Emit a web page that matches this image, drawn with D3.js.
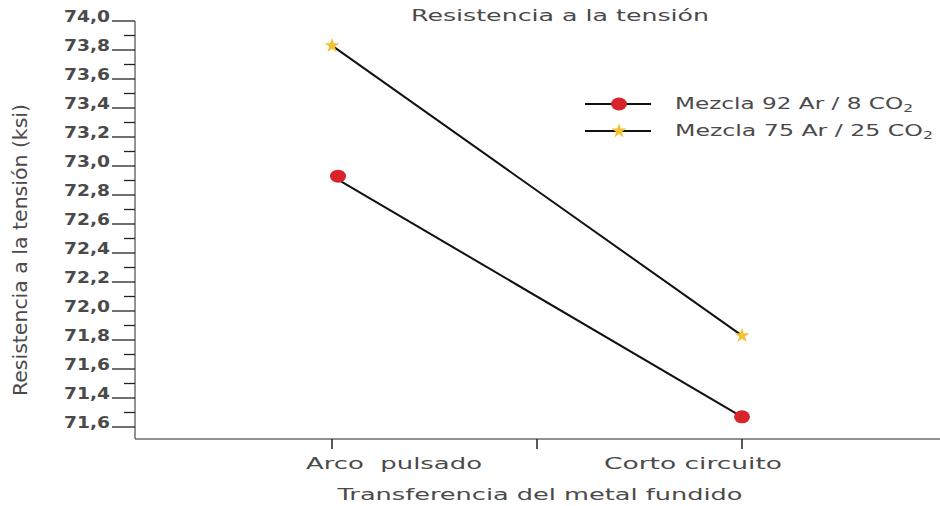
<!DOCTYPE html>
<html><head><meta charset="utf-8">
<script src="https://cdn.jsdelivr.net/npm/d3@7"></script>
<style>
body{margin:0;background:#fff;}
svg{display:block;}
text{font-family:"DejaVu Sans","Open Sans",sans-serif;fill:#4a4a4a;}
</style></head>
<body><svg id="c" width="940" height="506"></svg>
<script>
const categories = ["Arco  pulsado", "Corto circuito"];
const seriesNames = ["Mezcla 92 Ar / 8 CO", "Mezcla 75 Ar / 25 CO"];
const mezcla92 = [72.93, 71.27];
const mezcla75 = [73.83, 71.83];
const yTickValues = [74.0, 73.8, 73.6, 73.4, 73.2, 73.0, 72.8, 72.6, 72.4, 72.2, 72.0, 71.8, 71.6, 71.4, 71.2];
const yTickLabels = ["74,0","73,8","73,6","73,4","73,2","73,0","72,8","72,6","72,4","72,2","72,0","71,8","71,6","71,4","71,6"];
const title = "Resistencia a la tensión";
const xTitle = "Transferencia del metal fundido";
const yTitle = "Resistencia a la tensión (ksi)";

const svg = d3.select("#c");
const axisX0 = 135, axisBottom = 439;
const y = d3.scaleLinear().domain([71.2, 74.0]).range([427, 21]);
const x = d3.scaleBand().domain(categories).range([127, 947]);
const cx = c => x(c) + x.bandwidth() / 2;

// Y axis
const yAxisG = svg.append("g");
yAxisG.append("line").attr("x1", axisX0).attr("x2", axisX0).attr("y1", y(74.0)).attr("y2", axisBottom)
  .attr("stroke", "#6e6e6e").attr("stroke-width", 1.5);
const minor = y.ticks(28).filter(v => !yTickValues.some(m => Math.abs(m - v) < 1e-6));
yAxisG.selectAll("line.minor").data(minor).enter().append("line")
  .attr("x1", axisX0 - 11).attr("x2", axisX0).attr("y1", d => y(d)).attr("y2", d => y(d))
  .attr("stroke", "#222").attr("stroke-width", 1.3);
yAxisG.selectAll("line.major").data(yTickValues).enter().append("line")
  .attr("x1", axisX0 - 23).attr("x2", axisX0).attr("y1", d => y(d)).attr("y2", d => y(d))
  .attr("stroke", "#222").attr("stroke-width", 1.3);
yAxisG.selectAll("text.lab").data(yTickValues).enter().append("text")
  .attr("x", 110).attr("y", d => y(d) + 1).attr("text-anchor", "end")
  .attr("font-size", 15).attr("font-weight", "bold").attr("fill", "#5e5e5e")
  .attr("textLength", 46).attr("lengthAdjust", "spacingAndGlyphs")
  .text((d, i) => yTickLabels[i]);

// X axis
const xAxisG = svg.append("g");
xAxisG.append("line").attr("x1", axisX0).attr("x2", 940).attr("y1", axisBottom).attr("y2", axisBottom)
  .attr("stroke", "#6e6e6e").attr("stroke-width", 1.5);
const xTicks = [cx(categories[0]), x(categories[1]), cx(categories[1])];
xAxisG.selectAll("line.t").data(xTicks).enter().append("line")
  .attr("x1", d => d).attr("x2", d => d).attr("y1", axisBottom).attr("y2", axisBottom + 10)
  .attr("stroke", "#222").attr("stroke-width", 1.5);
const labelShift = [62, -49];
const labelLen = [176, 178];
xAxisG.selectAll("text.cat").data(categories).enter().append("text")
  .attr("x", (d, i) => cx(d) + labelShift[i]).attr("y", 469).attr("text-anchor", "middle")
  .attr("font-size", 16).attr("textLength", (d, i) => labelLen[i]).attr("lengthAdjust", "spacingAndGlyphs")
  .attr("xml:space", "preserve").style("white-space", "pre").attr("fill", "#3a3a3a")
  .text(d => d);

svg.append("text").attr("x", 540).attr("y", 500).attr("text-anchor", "middle").attr("fill", "#3a3a3a")
  .attr("font-size", 16).attr("textLength", 405).attr("lengthAdjust", "spacingAndGlyphs").text(xTitle);
svg.append("text").attr("x", 560).attr("y", 21).attr("text-anchor", "middle").attr("fill", "#3a3a3a")
  .attr("font-size", 16).attr("textLength", 298).attr("lengthAdjust", "spacingAndGlyphs").text(title);
svg.append("text").attr("transform", "translate(27,250) rotate(-90)").attr("text-anchor", "middle")
  .attr("font-family", "'Liberation Sans Narrow','DejaVu Sans Condensed','Liberation Sans',sans-serif")
  .attr("font-size", 20).attr("fill", "#222").attr("textLength", 292).attr("lengthAdjust", "spacingAndGlyphs")
  .text(yTitle);

// Lines and markers
const series = [
  {name: seriesNames[0], values: mezcla92, type: "dot"},
  {name: seriesNames[1], values: mezcla75, type: "star"}
];
const line = d3.line().x((d, i) => cx(categories[i])).y(d => y(d));
const star = d3.symbol().type(d3.symbolStar).size(70);
series.forEach(s => {
  svg.append("path").attr("d", line(s.values)).attr("fill", "none").attr("stroke", "#111").attr("stroke-width", 2);
});
series.forEach(s => {
  s.values.forEach((v, i) => {
    const px = cx(categories[i]), py = y(v);
    if (s.type === "dot") {
      svg.append("ellipse").attr("cx", px + (i === 0 ? 6 : 0)).attr("cy", py).attr("rx", 8).attr("ry", 6.5).attr("fill", "#d8232a");
    } else {
      svg.append("path").attr("d", star).attr("transform", `translate(${px},${py})`).attr("fill", "#f2c230");
    }
  });
});

// Legend
const legY = [104, 131];
const legLen = [238, 258];
series.forEach((s, i) => {
  const g = svg.append("g").attr("transform", `translate(0,${legY[i]})`);
  g.append("line").attr("x1", 585).attr("x2", 651).attr("y1", 0).attr("y2", 0).attr("stroke", "#111").attr("stroke-width", 2);
  if (s.type === "dot") g.append("ellipse").attr("cx", 619).attr("cy", 0).attr("rx", 8).attr("ry", 6.5).attr("fill", "#d8232a");
  else g.append("path").attr("d", star).attr("transform", "translate(619,0)").attr("fill", "#f2c230");
  const t = g.append("text").attr("x", 675).attr("y", 5).attr("font-size", 15).attr("fill", "#3a3a3a")
    .attr("textLength", legLen[i]).attr("lengthAdjust", "spacingAndGlyphs");
  t.append("tspan").text(s.name);
  t.append("tspan").attr("font-size", 10).attr("dy", 3).text("2");
});
</script></body></html>
